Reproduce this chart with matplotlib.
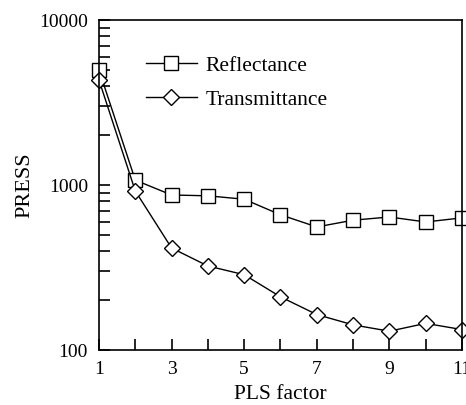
import matplotlib.pyplot as plt
from matplotlib.ticker import LogLocator, NullFormatter, FixedLocator

plt.rcParams['font.family'] = ['Liberation Serif', 'DejaVu Serif']

factors = [1, 2, 3, 4, 5, 6, 7, 8, 9, 10, 11]
reflectance = [4980, 1070, 870, 860, 820, 660, 557, 612, 640, 597, 632]
transmittance = [4330, 920, 415, 323, 286, 210, 164, 142, 130, 145, 133]

fig = plt.figure(figsize=(4.66, 4.05), dpi=100)
ax = fig.add_axes([0.2124, 0.1358, 0.779, 0.8148])

ax.plot(factors, reflectance, color='black', lw=1.0, marker='s', ms=10,
        mfc='white', mec='black', mew=1.0, label='Reflectance', clip_on=False)
ax.plot(factors, transmittance, color='black', lw=1.0, marker='D', ms=8,
        mfc='white', mec='black', mew=1.0, label='Transmittance', clip_on=False)

ax.set_yscale('log')
ax.set_ylim(100, 10000)
ax.set_xlim(1, 11)

ax.xaxis.set_major_locator(FixedLocator([1, 3, 5, 7, 9, 11]))
ax.xaxis.set_minor_locator(FixedLocator([2, 4, 6, 8, 10]))
ax.set_xticklabels(['1', '3', '5', '7', '9', '11'])
ax.yaxis.set_major_locator(FixedLocator([100, 1000, 10000]))
ax.set_yticklabels(['100', '1000', '10000'])
ax.yaxis.set_minor_locator(LogLocator(base=10, subs=range(2, 10)))
ax.yaxis.set_minor_formatter(NullFormatter())

ax.tick_params(which='both', direction='in', top=False, right=False,
               labelsize=14, width=1.2)
ax.tick_params(axis='y', pad=8)
ax.tick_params(axis='x', pad=8)
ax.tick_params(which='major', length=8)
ax.tick_params(which='minor', length=8)
for s in ax.spines.values():
    s.set_linewidth(1.2)

ax.set_xlabel('PLS factor', fontsize=15.5, labelpad=5)
ax.set_ylabel('PRESS', fontsize=16, labelpad=3)

ax.legend(loc='upper left', bbox_to_anchor=(0.075, 0.95), frameon=False,
          fontsize=15.5, handlelength=2.4, handletextpad=0.37,
          labelspacing=0.63)

fig.savefig('out.png', dpi=100)
